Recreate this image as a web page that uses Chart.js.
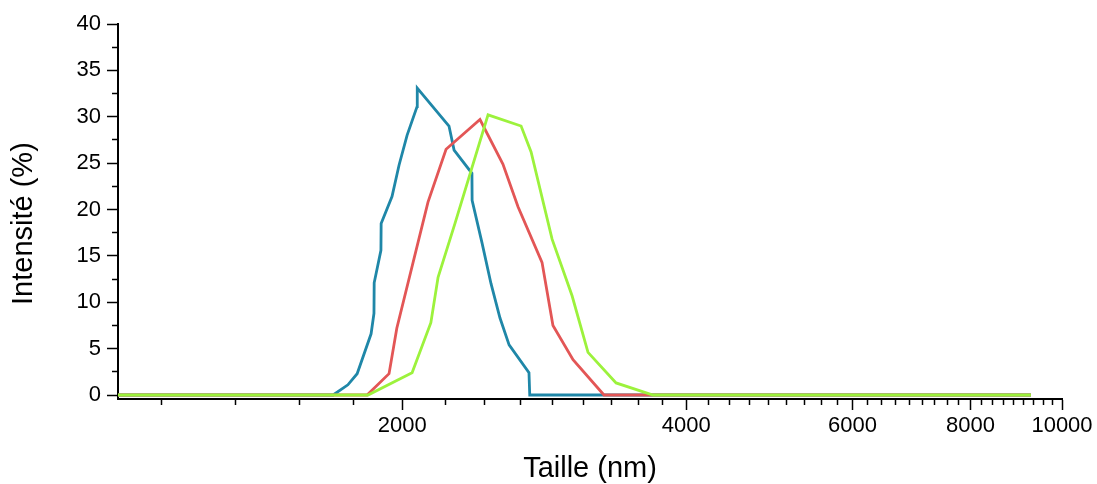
<!DOCTYPE html>
<html>
<head>
<meta charset="utf-8">
<script src="https://cdn.jsdelivr.net/npm/chart.js@4/dist/chart.umd.min.js"></script>
<style>
  body { margin: 0; background: #fff; }
  #wrap { width: 1097px; height: 484px; }
</style>
</head>
<body>
<div id="wrap"><canvas id="chart"></canvas></div>
<script>
// size (nm) / intensity (%)
var blueSize = [1000, 1690, 1752, 1792, 1854, 1867, 1868, 1899, 1900, 1951, 1985, 2024, 2074, 2075, 2242, 2270, 2371, 2372, 2430, 2484, 2539, 2596, 2725, 2730, 9270];
var blueIntensity = [0, 0, 1.1, 2.3, 6.6, 8.8, 12.1, 15.6, 18.5, 21.4, 24.8, 28.0, 31.1, 33.1, 29.0, 26.4, 23.9, 21.0, 16.4, 12.0, 8.3, 5.4, 2.4, 0, 0];

var redSize = [1000, 1836, 1937, 1974, 2130, 2226, 2418, 2557, 2653, 2813, 2889, 3034, 3272, 9270];
var redIntensity = [0, 0, 2.3, 7.2, 20.8, 26.5, 29.7, 24.9, 20.3, 14.3, 7.5, 3.8, 0, 0];

var greenSize = [1000, 1840, 2049, 2145, 2183, 2275, 2466, 2673, 2739, 2883, 3027, 3147, 3370, 3688, 9270];
var greenIntensity = [0, 0, 2.4, 7.8, 12.7, 18.5, 30.2, 29.0, 26.2, 16.8, 10.7, 4.6, 1.3, 0, 0];

var xMajorTicks = [2000, 4000, 6000, 8000, 10000];
var yMajorTicks = [0, 5, 10, 15, 20, 25, 30, 35, 40];

var FONT = "'Liberation Sans', Arial, sans-serif";

function points(xs, ys) {
  var out = [];
  for (var i = 0; i < xs.length; i++) out.push({x: xs[i], y: ys[i]});
  return out;
}

// 8 minor ticks between majors (Origin style)
function withMinors(majors, step, min, max) {
  var list = [];
  var start = majors[0] - step;
  for (var v = start; v <= max + 1e-9; v += step / 9) {
    var val = Math.round(v * 1000) / 1000;
    if (val >= min && val <= max) list.push(val);
  }
  return list;
}
function withMinorsY(majors) {
  var list = [];
  for (var i = 0; i < majors.length; i++) {
    list.push(majors[i]);
    if (i < majors.length - 1) list.push((majors[i] + majors[i + 1]) / 2);
  }
  return list;
}
function isMajor(list, v) {
  for (var i = 0; i < list.length; i++) if (Math.abs(list[i] - v) < 1e-6) return true;
  return false;
}

var xTicks = withMinors(xMajorTicks, 2000, 1000, 10000);
var yTicks = withMinorsY(yMajorTicks);

new Chart(document.getElementById('chart'), {
  type: 'line',
  data: {
    datasets: [
      {data: points(blueSize, blueIntensity), borderColor: '#1f87a8', order: 3},
      {data: points(redSize, redIntensity), borderColor: '#e35656', order: 2},
      {data: points(greenSize, greenIntensity), borderColor: '#9cf23c', order: 1}
    ]
  },
  options: {
    responsive: true,
    maintainAspectRatio: false,
    animation: false,
    layout: {padding: {top: 24, right: 35, left: 0, bottom: 0}},
    elements: {
      line: {borderWidth: 2.8, tension: 0, fill: false},
      point: {radius: 0}
    },
    plugins: {legend: {display: false}, tooltip: {enabled: false}},
    scales: {
      x: {
        type: 'logarithmic',
        min: 1000,
        max: 10000,
        afterBuildTicks: function (scale) {
          scale.ticks = xTicks.map(function (v) { return {value: v}; });
        },
        afterFit: function (scale) { scale.height = 85; },
        ticks: {
          autoSkip: false,
          maxRotation: 0,
          padding: 3,
          color: '#000',
          font: {family: FONT, size: 22},
          callback: function (v) { return isMajor(xMajorTicks, v) ? String(v) : ''; }
        },
        grid: {
          drawOnChartArea: false,
          tickLength: 11,
          tickWidth: 1.5,
          tickColor: '#000',
          tickBorderDash: function (ctx) {
            return ctx.tick && !isMajor(xMajorTicks, ctx.tick.value) ? [5, 30] : [];
          }
        },
        border: {display: true, color: '#000', width: 2},
        title: {
          display: true,
          text: 'Taille (nm)',
          color: '#000',
          font: {family: FONT, size: 29},
          padding: {top: 0, bottom: -2}
        }
      },
      y: {
        type: 'linear',
        min: -0.43,
        max: 40,
        afterBuildTicks: function (scale) {
          scale.ticks = yTicks.map(function (v) { return {value: v}; });
        },
        afterFit: function (scale) { scale.width = 118; },
        ticks: {
          autoSkip: false,
          padding: 6,
          color: '#000',
          font: {family: FONT, size: 22},
          callback: function (v) { return isMajor(yMajorTicks, v) ? String(v) : ''; }
        },
        grid: {
          drawOnChartArea: false,
          tickLength: 11,
          tickWidth: 1.5,
          tickColor: '#000',
          // left ticks are drawn from the outer end towards the axis
          tickBorderDash: function (ctx) {
            return ctx.tick && !isMajor(yMajorTicks, ctx.tick.value) ? [0, 5, 6, 30] : [];
          }
        },
        border: {display: true, color: '#000', width: 2},
        title: {
          display: true,
          text: 'Intensité (%)   ',
          color: '#000',
          font: {family: FONT, size: 29},
          padding: {top: 7, bottom: 0}
        }
      }
    }
  }
});
</script>
</body>
</html>
